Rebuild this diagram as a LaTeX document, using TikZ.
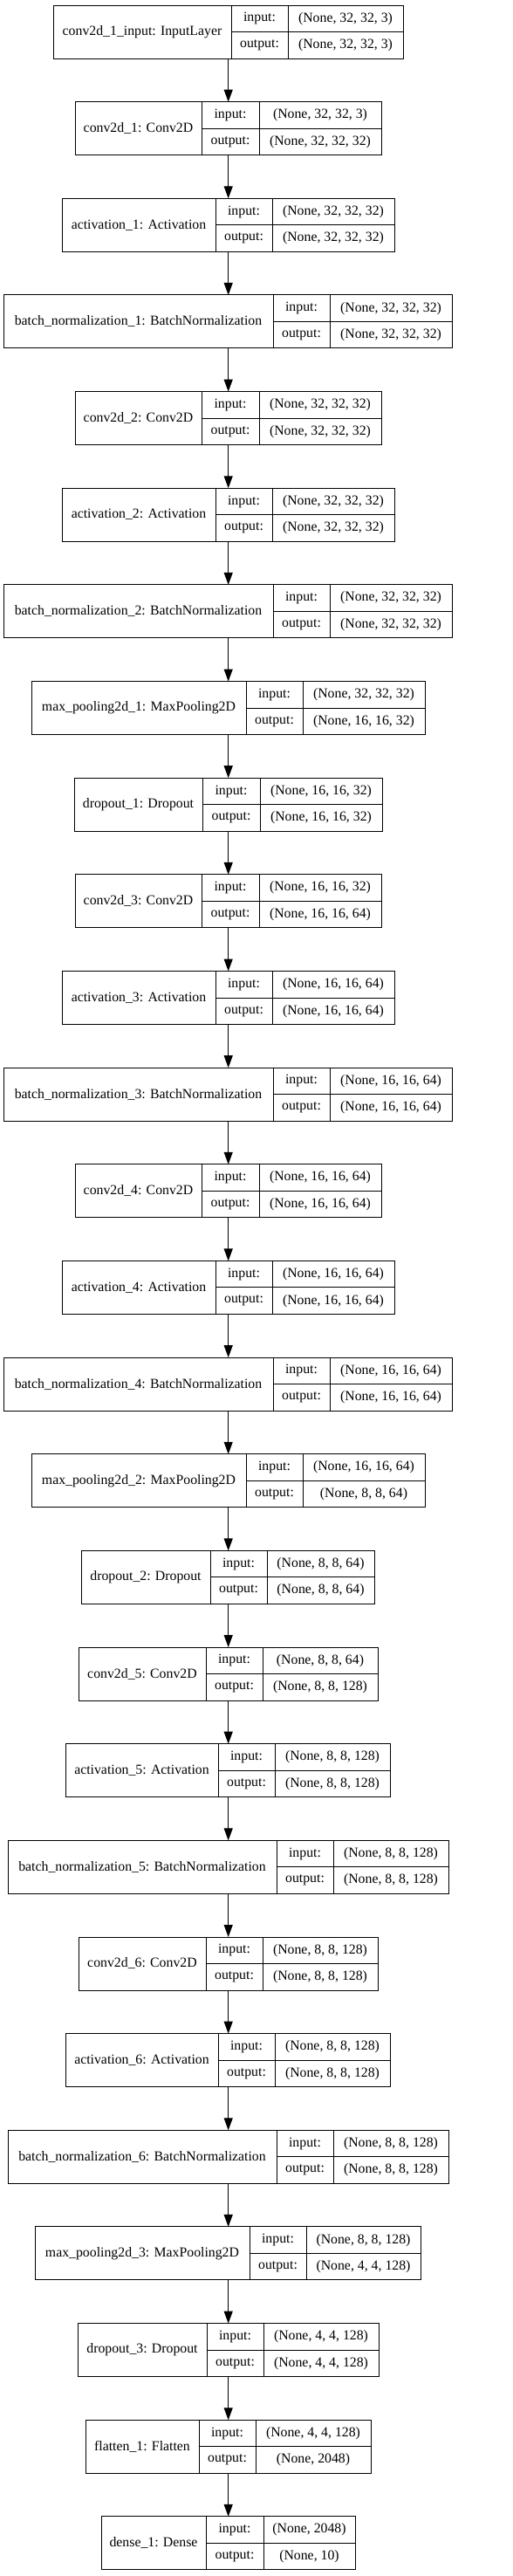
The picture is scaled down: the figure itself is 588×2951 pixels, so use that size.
\documentclass[tikz,border=0pt]{standalone}
\usepackage{fontspec}
\setmainfont{Liberation Serif}
\usetikzlibrary{arrows.meta}
\tikzset{
  layerbox/.style={draw=black, line width=1pt, inner sep=0pt, outer sep=0pt},
  cellline/.style={draw=black, line width=1pt},
  celltext/.style={inner sep=0pt, font=\fontsize{15.8}{18}\selectfont, anchor=center},
  flow/.style={draw=black, line width=1.1pt, -{Triangle[length=14pt, width=10pt]}}
}
% #1 name, #2 index, #3 left, #4 div1, #5 div2, #6 right, #7 layer text, #8 input, #9 output
\newcommand\kerlayer[9]{%
  \pgfmathsetmacro\kty{-(6+110.65*#2)}%
  \pgfmathsetmacro\ktb{\kty-61}%
  \pgfmathsetmacro\ktm{\kty-30.5}%
  \pgfmathsetmacro\ktr{\kty-15.25}%
  \pgfmathsetmacro\kts{\kty-45.75}%
  \node[layerbox, anchor=north west, minimum width={#6pt-#3pt}, minimum height=61pt] (#1) at (#3,\kty) {};
  \draw[cellline] (#4,\kty) -- (#4,\ktb);
  \draw[cellline] (#5,\kty) -- (#5,\ktb);
  \draw[cellline] (#4,\ktm) -- (#6,\ktm);
  \node[celltext] (#1n) at ({(#3+#4)/2},\ktm) {#7};
  \node[celltext] (#1a) at ({(#4+#5)/2},\ktr) {input:};
  \node[celltext] (#1b) at ({(#4+#5)/2},\kts) {output:};
  \node[celltext] (#1c) at ({(#5+#6)/2},\ktr) {#8};
  \node[celltext] (#1d) at ({(#5+#6)/2},\kts) {#9};
}
\begin{document}
\begin{tikzpicture}[x=1pt,y=1pt]
\useasboundingbox (0,0) rectangle (588,-2951);
\fill[white] (0,0) rectangle (588,-2951);
\coordinate (ax) at (261.7,0);
\kerlayer{L0}{0}{61}{265}{330}{462}{conv2d\_1\_input: InputLayer}{(None, 32, 32, 3)}{(None, 32, 32, 3)}
\kerlayer{L1}{1}{86}{231}{297}{437}{conv2d\_1: Conv2D}{(None, 32, 32, 3)}{(None, 32, 32, 32)}
\kerlayer{L2}{2}{71}{247}{312}{452}{activation\_1: Activation}{(None, 32, 32, 32)}{(None, 32, 32, 32)}
\kerlayer{L3}{3}{4}{313}{378}{518}{batch\_normalization\_1: BatchNormalization}{(None, 32, 32, 32)}{(None, 32, 32, 32)}
\kerlayer{L4}{4}{86}{231}{297}{437}{conv2d\_2: Conv2D}{(None, 32, 32, 32)}{(None, 32, 32, 32)}
\kerlayer{L5}{5}{71}{247}{312}{452}{activation\_2: Activation}{(None, 32, 32, 32)}{(None, 32, 32, 32)}
\kerlayer{L6}{6}{4}{313}{378}{518}{batch\_normalization\_2: BatchNormalization}{(None, 32, 32, 32)}{(None, 32, 32, 32)}
\kerlayer{L7}{7}{36}{282}{347}{487}{max\_pooling2d\_1: MaxPooling2D}{(None, 32, 32, 32)}{(None, 16, 16, 32)}
\kerlayer{L8}{8}{85}{232}{298}{438}{dropout\_1: Dropout}{(None, 16, 16, 32)}{(None, 16, 16, 32)}
\kerlayer{L9}{9}{86}{231}{297}{437}{conv2d\_3: Conv2D}{(None, 16, 16, 32)}{(None, 16, 16, 64)}
\kerlayer{L10}{10}{71}{247}{312}{452}{activation\_3: Activation}{(None, 16, 16, 64)}{(None, 16, 16, 64)}
\kerlayer{L11}{11}{4}{313}{378}{518}{batch\_normalization\_3: BatchNormalization}{(None, 16, 16, 64)}{(None, 16, 16, 64)}
\kerlayer{L12}{12}{86}{231}{297}{437}{conv2d\_4: Conv2D}{(None, 16, 16, 64)}{(None, 16, 16, 64)}
\kerlayer{L13}{13}{71}{247}{312}{452}{activation\_4: Activation}{(None, 16, 16, 64)}{(None, 16, 16, 64)}
\kerlayer{L14}{14}{4}{313}{378}{518}{batch\_normalization\_4: BatchNormalization}{(None, 16, 16, 64)}{(None, 16, 16, 64)}
\kerlayer{L15}{15}{36}{282}{347}{487}{max\_pooling2d\_2: MaxPooling2D}{(None, 16, 16, 64)}{(None, 8, 8, 64)}
\kerlayer{L16}{16}{93}{241}{306}{429}{dropout\_2: Dropout}{(None, 8, 8, 64)}{(None, 8, 8, 64)}
\kerlayer{L17}{17}{90}{236}{301}{433}{conv2d\_5: Conv2D}{(None, 8, 8, 64)}{(None, 8, 8, 128)}
\kerlayer{L18}{18}{75}{250}{315}{447}{activation\_5: Activation}{(None, 8, 8, 128)}{(None, 8, 8, 128)}
\kerlayer{L19}{19}{9}{317}{382}{514}{batch\_normalization\_5: BatchNormalization}{(None, 8, 8, 128)}{(None, 8, 8, 128)}
\kerlayer{L20}{20}{90}{236}{301}{433}{conv2d\_6: Conv2D}{(None, 8, 8, 128)}{(None, 8, 8, 128)}
\kerlayer{L21}{21}{75}{250}{315}{447}{activation\_6: Activation}{(None, 8, 8, 128)}{(None, 8, 8, 128)}
\kerlayer{L22}{22}{9}{317}{382}{514}{batch\_normalization\_6: BatchNormalization}{(None, 8, 8, 128)}{(None, 8, 8, 128)}
\kerlayer{L23}{23}{40}{286}{351}{482}{max\_pooling2d\_3: MaxPooling2D}{(None, 8, 8, 128)}{(None, 4, 4, 128)}
\kerlayer{L24}{24}{89}{237}{302}{434}{dropout\_3: Dropout}{(None, 4, 4, 128)}{(None, 4, 4, 128)}
\kerlayer{L25}{25}{98}{228}{293}{425}{flatten\_1: Flatten}{(None, 4, 4, 128)}{(None, 2048)}
\kerlayer{L26}{26}{116}{236}{302}{407}{dense\_1: Dense}{(None, 2048)}{(None, 10)}
\foreach \a/\b in {L0/L1,L1/L2,L2/L3,L3/L4,L4/L5,L5/L6,L6/L7,L7/L8,L8/L9,L9/L10,L10/L11,L11/L12,L12/L13,L13/L14,L14/L15,L15/L16,L16/L17,L17/L18,L18/L19,L19/L20,L20/L21,L21/L22,L22/L23,L23/L24,L24/L25,L25/L26}
  \draw[flow] (\a.south -| ax) -- (\b.north -| ax);
\end{tikzpicture}
\end{document}
